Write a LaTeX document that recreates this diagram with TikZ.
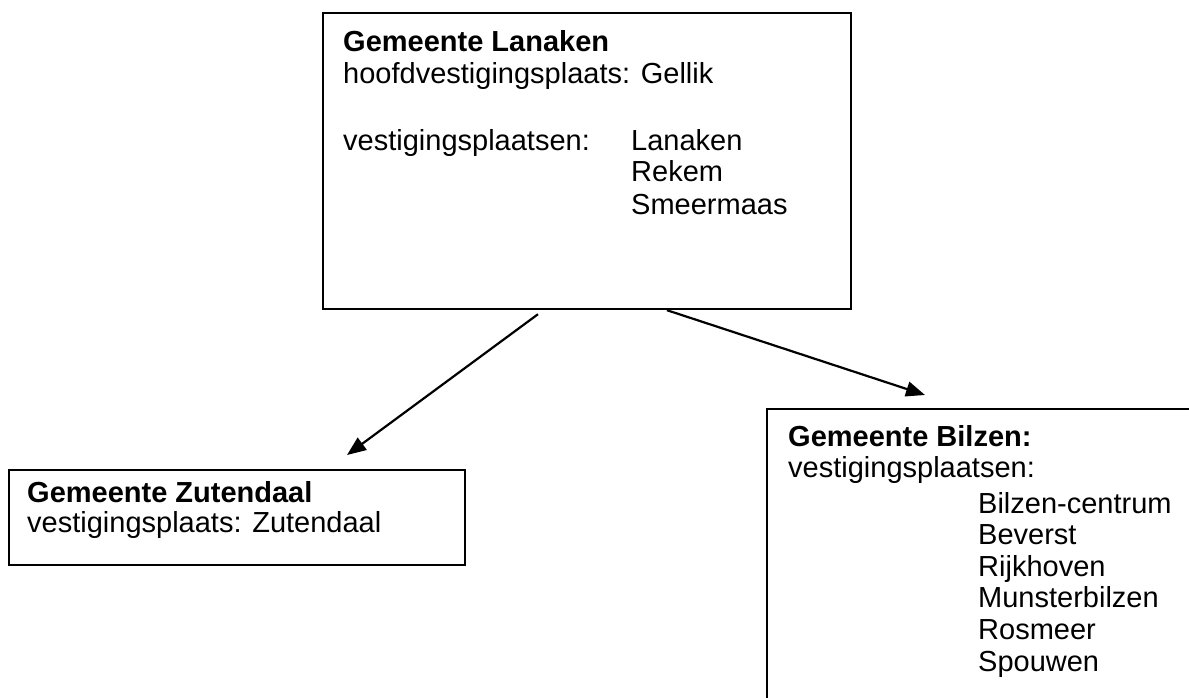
\documentclass[tikz,border=0pt]{standalone}
\usepackage{fontspec}
\setmainfont{Liberation Sans}
\usetikzlibrary{arrows.meta,calc}
\begin{document}
\begin{tikzpicture}[x=1pt,y=-1pt,
  box/.style={draw=black,line width=2.2pt,rectangle,inner sep=0pt,anchor=north west},
  txt/.style={anchor=base west,inner sep=0pt,font=\fontsize{29}{33}\selectfont},
  btxt/.style={txt,font=\fontsize{29}{33}\selectfont\bfseries},
  conn/.style={line width=2.2pt,-{Triangle[length=19pt,width=15pt]}}]
\useasboundingbox (0,0) rectangle (1189,698);
\clip (0,0) rectangle (1189,698);
\fill[white] (0,0) rectangle (1189,698);
% boxes
\node[box,minimum width=528pt,minimum height=296pt] (lan) at (322,12) {};
\node[box,minimum width=456pt,minimum height=95pt] (zut) at (8,469) {};
\node[box,minimum width=600pt,minimum height=400pt] (bil) at (766,408) {};
% Lanaken text
\node[btxt] (l1) at (343,52) {Gemeente Lanaken};
\node[txt] (l2) at (343,84) {hoofdvestigingsplaats: Gellik};
\node[txt] (l3) at (343,150) {vestigingsplaatsen:};
\node[txt] (l4) at (631,150) {Lanaken};
\node[txt] (l5) at (631,182) {Rekem};
\node[txt] (l6) at (631,214) {Smeermaas};
% Zutendaal text
\node[btxt] (z1) at (27,502) {Gemeente Zutendaal};
\node[txt] (z2) at (27,532) {vestigingsplaats: Zutendaal};
% Bilzen text
\node[btxt] (b1) at (788,446) {Gemeente Bilzen:};
\node[txt] (b2) at (788,477) {vestigingsplaatsen:};
\node[txt] (b3) at (978,513) {Bilzen-centrum};
\node[txt] (b4) at (978,544.6) {Beverst};
\node[txt] (b5) at (978,576.2) {Rijkhoven};
\node[txt] (b6) at (978,607.8) {Munsterbilzen};
\node[txt] (b7) at (978,639.4) {Rosmeer};
\node[txt] (b8) at (978,671) {Spouwen};
% connectors
\coordinate (a1s) at ($(lan.south west)+(216,4)$);
\coordinate (a1e) at ($(zut.north west)+(339,-14)$);
\coordinate (a2s) at ($(lan.south west)+(345,0)$);
\coordinate (a2e) at ($(bil.north west)+(159,-13)$);
\draw[conn] (a1s) -- (a1e);
\draw[conn] (a2s) -- (a2e);
\end{tikzpicture}
\end{document}
